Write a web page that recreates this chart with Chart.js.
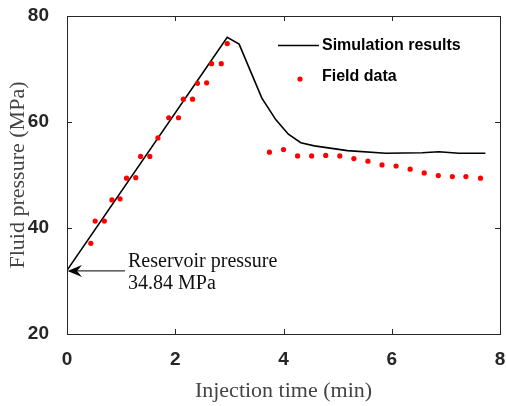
<!DOCTYPE html>
<html>
<head>
<meta charset="utf-8">
<script src="https://cdn.jsdelivr.net/npm/chart.js@4.4.1/dist/chart.umd.min.js"></script>
<style>
html,body{margin:0;padding:0;background:#fff;}
#wrap{width:506px;height:406px;position:relative;}
</style>
</head>
<body>
<div id="wrap"><canvas id="c" width="506" height="406"></canvas></div>
<script>
// ---- data ----
const simTime     = [0, 2.96, 3.18, 3.6, 3.86, 4.09, 4.32, 4.57, 5.18, 5.89, 6.56, 6.87, 7.24, 7.73];
const simPressure = [32, 76, 74.7, 64.5, 60.4, 57.7, 56.1, 55.5, 54.6, 54.1, 54.2, 54.4, 54.1, 54.1];
const fieldTime     = [0.44, 0.52, 0.69, 0.83, 0.98, 1.10, 1.27, 1.36, 1.53, 1.68, 1.88, 2.06, 2.15, 2.32, 2.41, 2.58, 2.67, 2.85, 2.96,
                       3.74, 4.00, 4.26, 4.52, 4.78, 5.04, 5.30, 5.56, 5.82, 6.08, 6.34, 6.60, 6.86, 7.12, 7.37, 7.64];
const fieldPressure = [37.1, 41.3, 41.3, 45.3, 45.5, 49.4, 49.5, 53.5, 53.5, 57.0, 60.8, 60.8, 64.3, 64.3, 67.3, 67.4, 71.0, 71.0, 74.8,
                       54.3, 54.8, 53.6, 53.6, 53.7, 53.6, 53.1, 52.6, 51.9, 51.7, 51.1, 50.4, 49.9, 49.7, 49.7, 49.4];
const xTicks = [0, 2, 4, 6, 8];
const yTicks = [20, 40, 60, 80];
const seriesLabels = ['Simulation results', 'Field data'];
const xTitle = 'Injection time (min)';
const yTitle = 'Fluid pressure (MPa)';
const annotationLines = ['Reservoir pressure', '34.84 MPa'];
const reservoirPressure = 32;

const axisColor = '#262626';
const titleFont = '"Liberation Serif", serif';
const tickFont = '"Liberation Sans", Arial, sans-serif';

const simData = simTime.map((t, i) => ({x: t, y: simPressure[i]}));
const fieldData = fieldTime.map((t, i) => ({x: t, y: fieldPressure[i]}));

const decor = {
  id: 'decor',
  afterDraw(chart) {
    const ctx = chart.ctx;
    const xs = chart.scales.x, ys = chart.scales.y;
    const a = chart.chartArea;
    ctx.save();
    // box
    ctx.strokeStyle = axisColor;
    ctx.lineWidth = 1;
    ctx.strokeRect(Math.round(a.left) + 0.5, Math.round(a.top) + 0.5, Math.round(a.right - a.left), Math.round(a.bottom - a.top));
    // inward ticks
    const tl = 5;
    ctx.beginPath();
    xTicks.forEach(v => {
      const px = Math.round(xs.getPixelForValue(v)) + 0.5;
      ctx.moveTo(px, a.bottom); ctx.lineTo(px, a.bottom - tl);
      ctx.moveTo(px, a.top); ctx.lineTo(px, a.top + tl);
    });
    yTicks.forEach(v => {
      const py = Math.round(ys.getPixelForValue(v)) + 0.5;
      ctx.moveTo(a.left, py); ctx.lineTo(a.left + tl, py);
      ctx.moveTo(a.right, py); ctx.lineTo(a.right - tl, py);
    });
    ctx.stroke();

    // legend
    ctx.strokeStyle = '#000';
    ctx.lineWidth = 1.6;
    ctx.beginPath();
    ctx.moveTo(278, 45.5); ctx.lineTo(319, 45.5);
    ctx.stroke();
    ctx.fillStyle = '#ff0000';
    ctx.beginPath(); ctx.arc(300, 79, 2.6, 0, Math.PI * 2); ctx.fill();
    ctx.fillStyle = '#000';
    ctx.font = 'bold 16px ' + tickFont;
    ctx.textBaseline = 'middle';
    ctx.textAlign = 'left';
    ctx.fillText(seriesLabels[0], 322, 46);
    ctx.fillText(seriesLabels[1], 322, 77);

    // annotation arrow
    const y0 = ys.getPixelForValue(reservoirPressure);
    const x0 = xs.getPixelForValue(0);
    ctx.strokeStyle = '#000';
    ctx.lineWidth = 1;
    ctx.beginPath();
    ctx.moveTo(x0 + 5, y0 + 0.5); ctx.lineTo(x0 + 58, y0 + 0.5);
    ctx.stroke();
    ctx.fillStyle = '#000';
    ctx.beginPath();
    ctx.moveTo(x0 + 0.5, y0 + 0.5);
    ctx.lineTo(x0 + 15, y0 - 5.5);
    ctx.lineTo(x0 + 10, y0 + 0.5);
    ctx.lineTo(x0 + 15, y0 + 6.5);
    ctx.closePath();
    ctx.fill();
    ctx.fillStyle = '#111';
    ctx.font = '20px ' + titleFont;
    ctx.textBaseline = 'alphabetic';
    ctx.fillText(annotationLines[0], x0 + 61, y0 - 3);
    ctx.fillText(annotationLines[1], x0 + 61, y0 + 19);
    ctx.restore();
  }
};

new Chart(document.getElementById('c'), {
  type: 'scatter',
  data: {
    datasets: [
      {label: seriesLabels[0], data: simData, showLine: true, borderColor: '#000', borderWidth: 1.6,
       pointRadius: 0, pointHoverRadius: 0, fill: false, tension: 0, order: 2},
      {label: seriesLabels[1], data: fieldData, showLine: false, backgroundColor: '#ff0000', borderColor: '#ff0000',
       borderWidth: 0, pointRadius: 2.6, pointHoverRadius: 2.6, order: 1}
    ]
  },
  options: {
    responsive: false,
    animation: false,
    events: [],
    layout: {padding: {left: 0, top: 16, right: 6, bottom: 0}},
    plugins: {legend: {display: false}, tooltip: {enabled: false}},
    scales: {
      x: {
        type: 'linear', min: 0, max: 8,
        afterBuildTicks(s) { s.ticks = xTicks.map(v => ({value: v})); },
        afterFit(s) { s.height = 72; s.paddingLeft = 0; s.paddingRight = 0; },
        grid: {display: false},
        border: {display: false},
        ticks: {color: axisColor, padding: 6, font: {family: tickFont, size: 19, weight: 'bold'}, maxRotation: 0},
        title: {display: true, text: xTitle, color: '#444', font: {family: titleFont, size: 22}, padding: {top: 4, bottom: 2}}
      },
      y: {
        type: 'linear', min: 20, max: 80,
        afterBuildTicks(s) { s.ticks = yTicks.map(v => ({value: v})); },
        afterFit(s) { s.width = 67; s.paddingTop = 0; s.paddingBottom = 0; },
        grid: {display: false},
        border: {display: false},
        ticks: {color: axisColor, padding: 10, font: {family: tickFont, size: 19, weight: 'bold'}},
        title: {display: true, text: yTitle, color: '#444', font: {family: titleFont, size: 22}, padding: {top: 5, bottom: 2}}
      }
    }
  },
  plugins: [decor]
});
</script>
</body>
</html>
